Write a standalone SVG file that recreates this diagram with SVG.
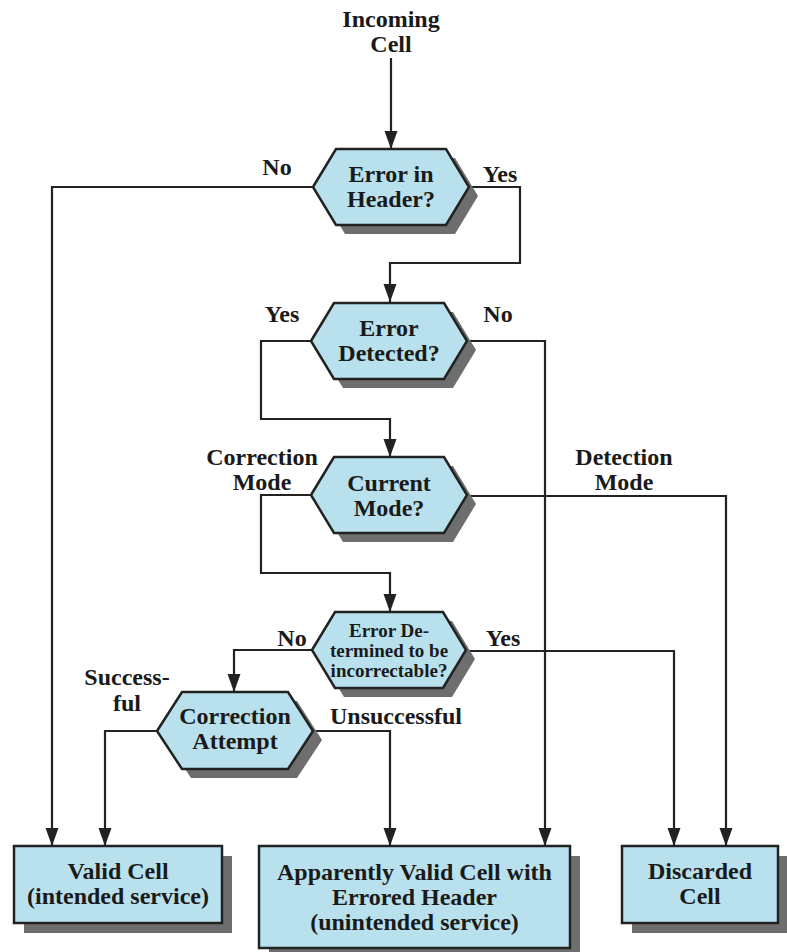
<svg xmlns="http://www.w3.org/2000/svg" width="787" height="952" viewBox="0 0 787 952">
<defs>
<style>
.t{font-family:"Liberation Serif","Times New Roman",serif;font-weight:bold;font-size:24px;fill:#1a1a1a;text-anchor:middle}
.s{font-size:19px}
.node{fill:#b9e1ed;stroke:#222;stroke-width:2.5;stroke-linejoin:miter}
.sh{fill:#6e6e6e}
.c{fill:none;stroke:#222;stroke-width:2.2}
</style>
<marker id="ah" markerUnits="userSpaceOnUse" markerWidth="19" markerHeight="14" refX="18" refY="6.5" orient="auto">
<path d="M0,0 L18,6.5 L0,13 z" fill="#222"/>
</marker>
</defs>
<rect width="787" height="952" fill="#fff"/>

<g id="connectors">
<path class="c" d="M391,58 V149" marker-end="url(#ah)"/>
<path class="c" d="M313,187 H52 V846" marker-end="url(#ah)"/>
<path class="c" d="M469,187 H520 V263 H390 V302" marker-end="url(#ah)"/>
<path class="c" d="M311,341 H261 V419 H390 V457" marker-end="url(#ah)"/>
<path class="c" d="M467,341 H545 V846" marker-end="url(#ah)"/>
<path class="c" d="M311,495 H261 V573 H390 V612" marker-end="url(#ah)"/>
<path class="c" d="M467,496 H726 V846" marker-end="url(#ah)"/>
<path class="c" d="M312,650 H234 V692" marker-end="url(#ah)"/>
<path class="c" d="M466,651 H674 V846" marker-end="url(#ah)"/>
<path class="c" d="M157,731 H105 V846" marker-end="url(#ah)"/>
<path class="c" d="M313,731 H390 V846" marker-end="url(#ah)"/>
</g>

<g id="labels">
<text class="t" x="391" y="27">Incoming</text>
<text class="t" x="391" y="52">Cell</text>
<text class="t" x="277" y="175">No</text>
<text class="t" x="500" y="182">Yes</text>
<text class="t" x="282" y="322">Yes</text>
<text class="t" x="498" y="322">No</text>
<text class="t" x="262" y="465">Correction</text>
<text class="t" x="262" y="490">Mode</text>
<text class="t" x="624" y="465">Detection</text>
<text class="t" x="624" y="490">Mode</text>
<text class="t" x="292" y="646">No</text>
<text class="t" x="503" y="646">Yes</text>
<text class="t" x="127" y="685">Success-</text>
<text class="t" x="127" y="711">ful</text>
<text class="t" x="396" y="724">Unsuccessful</text>
</g>

<g id="n_header">
<polygon class="sh" points="322,196 345,158 455,158 478,196 455,234 345,234"/>
<polygon class="node" points="313,187 336,149 446,149 469,187 446,225 336,225"/>
<text class="t" x="391" y="182">Error in</text>
<text class="t" x="391" y="207">Header?</text>
</g>

<g id="n_detected">
<polygon class="sh" points="320,350 343,312 453,312 476,350 453,388 343,388"/>
<polygon class="node" points="311,341 334,303 444,303 467,341 444,379 334,379"/>
<text class="t" x="389" y="336">Error</text>
<text class="t" x="389" y="361">Detected?</text>
</g>

<g id="n_mode">
<polygon class="sh" points="320,504 343,466 453,466 476,504 453,542 343,542"/>
<polygon class="node" points="311,495 334,457 444,457 467,495 444,533 334,533"/>
<text class="t" x="389" y="491">Current</text>
<text class="t" x="389" y="516">Mode?</text>
</g>

<g id="n_incorrectable">
<polygon class="sh" points="321,659 344,621 452,621 475,659 452,697 344,697"/>
<polygon class="node" points="312,650 335,612 443,612 466,650 443,688 335,688"/>
<text class="t s" x="389" y="637">Error De-</text>
<text class="t s" x="389" y="657">termined to be</text>
<text class="t s" x="389" y="677">incorrectable?</text>
</g>

<g id="n_attempt">
<polygon class="sh" points="166,740 191,701 297,701 322,740 297,778 191,778"/>
<polygon class="node" points="157,731 182,692 288,692 313,731 288,769 182,769"/>
<text class="t" x="235" y="724">Correction</text>
<text class="t" x="235" y="749">Attempt</text>
</g>

<g id="n_valid">
<rect class="sh" x="24" y="856" width="208" height="77"/>
<rect class="node" x="14" y="846" width="208" height="77"/>
<text class="t" x="118" y="879">Valid Cell</text>
<text class="t" x="118" y="904">(intended service)</text>
</g>

<g id="n_errored">
<rect class="sh" x="269" y="856" width="311" height="102"/>
<rect class="node" x="259" y="846" width="311" height="102"/>
<text class="t" x="414.5" y="880">Apparently Valid Cell with</text>
<text class="t" x="414.5" y="905">Errored Header</text>
<text class="t" x="414.5" y="930">(unintended service)</text>
</g>

<g id="n_discarded">
<rect class="sh" x="632" y="856" width="156" height="77"/>
<rect class="node" x="622" y="846" width="156" height="77"/>
<text class="t" x="700" y="879">Discarded</text>
<text class="t" x="700" y="904">Cell</text>
</g>
</svg>
